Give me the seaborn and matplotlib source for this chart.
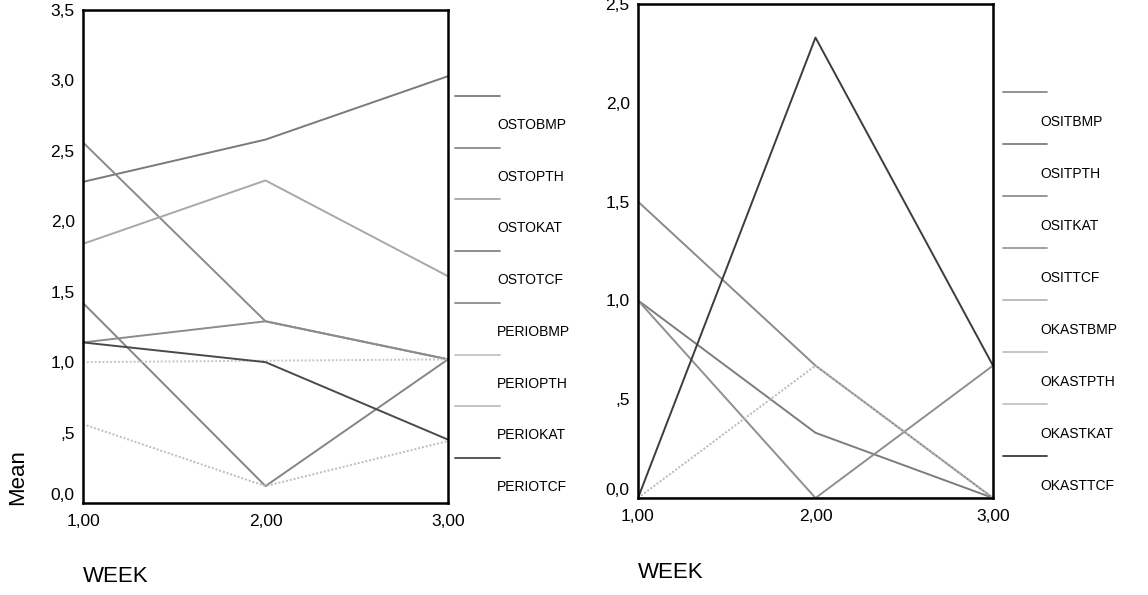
import matplotlib
matplotlib.use("Agg")
import matplotlib.pyplot as plt
from matplotlib.lines import Line2D
import seaborn as sns
import pandas as pd

# ---- data ----
weeks = [1.0, 2.0, 3.0]

left_labels = ["OSTOBMP", "OSTOPTH", "OSTOKAT", "OSTOTCF",
               "PERIOBMP", "PERIOPTH", "PERIOKAT", "PERIOTCF"]
OSTOBMP = [2.28, 2.58, 3.03]
OSTOPTH = [2.56, 1.29, 1.02]
OSTOKAT = [1.84, 2.29, 1.61]
OSTOTCF = [1.42, 0.12, 1.02]
PERIOBMP = [1.14, 1.29, 1.02]
PERIOPTH = [1.00, 1.01, 1.02]
PERIOKAT = [0.56, 0.12, 0.44]
PERIOTCF = [1.14, 1.00, 0.45]
left_values = [OSTOBMP, OSTOPTH, OSTOKAT, OSTOTCF,
               PERIOBMP, PERIOPTH, PERIOKAT, PERIOTCF]

right_labels = ["OSITBMP", "OSITPTH", "OSITKAT", "OSITTCF",
                "OKASTBMP", "OKASTPTH", "OKASTKAT", "OKASTTCF"]
OSITBMP = [1.50, 0.67, 0.00]
OSITPTH = [1.00, 0.33, 0.00]
OSITKAT = [1.00, 0.00, 0.67]
OSITTCF = [0.00, 0.00, 0.00]
OKASTBMP = [0.00, 0.67, 0.00]
OKASTPTH = [0.00, 0.00, 0.00]
OKASTKAT = [0.00, 0.00, 0.00]
OKASTTCF = [0.00, 2.33, 0.67]
right_values = [OSITBMP, OSITPTH, OSITKAT, OSITTCF,
                OKASTBMP, OKASTPTH, OKASTKAT, OKASTTCF]

left_yticks = [0.0, 0.5, 1.0, 1.5, 2.0, 2.5, 3.0, 3.5]
left_yticklabels = ["0,0", ",5", "1,0", "1,5", "2,0", "2,5", "3,0", "3,5"]
right_yticks = [0.0, 0.5, 1.0, 1.5, 2.0, 2.5]
right_yticklabels = ["0,0", ",5", "1,0", "1,5", "2,0", "2,5"]
xticks = [1.0, 2.0, 3.0]
xticklabels = ["1,00", "2,00", "3,00"]

# ---- styles ----
left_colors = ["#7a7a7a", "#8a8a8a", "#a8a8a8", "#858585",
               "#8c8c8c", "#c4c4c4", "#bdbdbd", "#4a4a4a"]
left_styles = ["-", "-", "-", "-", "-", (0, (1, 1)), (0, (1, 1)), "-"]
right_colors = ["#8a8a8a", "#7d7d7d", "#8f8f8f", "#9a9a9a",
                "#b8b8b8", "#c0c0c0", "#c4c4c4", "#3c3c3c"]
right_styles = ["-", "-", "-", "-", (0, (1, 1)), (0, (1, 1)), (0, (1, 1)), "-"]

sns.set_style("white")
plt.rcParams["font.family"] = ["Liberation Sans", "DejaVu Sans"]
plt.rcParams["text.color"] = "black"
plt.rcParams["xtick.color"] = "black"
plt.rcParams["ytick.color"] = "black"

W, H = 1148, 595
fig = plt.figure(figsize=(W / 100, H / 100), dpi=100)


def fx(px):
    return px / W


def fy(py):
    return 1 - py / H


def make_df(labels, values):
    rows = []
    for lab, vals in zip(labels, values):
        for w, v in zip(weeks, vals):
            rows.append({"WEEK": w, "Mean": v, "series": lab})
    return pd.DataFrame(rows)


def draw(ax, labels, values, colors, styles, ymax, yticks, yticklabels):
    df = make_df(labels, values)
    for lab, col, ls in zip(labels, colors, styles):
        sub = df[df["series"] == lab]
        sns.lineplot(data=sub, x="WEEK", y="Mean", ax=ax, color=col,
                     linestyle=ls, linewidth=1.4, legend=False)
    ax.set_xlim(1, 3)
    ax.set_ylim(0, ymax)
    ax.set_xticks(xticks)
    ax.set_xticklabels(xticklabels)
    ax.set_yticks(yticks)
    ax.set_yticklabels(yticklabels)
    ax.set_xlabel("")
    ax.set_ylabel("")
    for sp in ax.spines.values():
        sp.set_visible(True)
        sp.set_color("black")
        sp.set_linewidth(1.8)
    ax.tick_params(axis="y", direction="inout", length=4, width=3,
                   color="black", labelsize=12.5, pad=4, labelcolor="black")
    ax.tick_params(axis="x", direction="inout", length=4, width=3,
                   color="black", labelsize=12.5, pad=6, labelcolor="black")
    # the lowest y label sits slightly above its tick, as in SPSS output
    ax.get_yticklabels()[0].set_va("bottom")
    ax.set_facecolor("white")


ax1 = fig.add_axes([fx(83), fy(503), fx(448 - 83), (503 - 10) / H])
draw(ax1, left_labels, left_values, left_colors, left_styles, 3.5,
     left_yticks, left_yticklabels)
ax2 = fig.add_axes([fx(638), fy(498), fx(993 - 638), (498 - 4) / H])
draw(ax2, right_labels, right_values, right_colors, right_styles, 2.5,
     right_yticks, right_yticklabels)

# legends (handle above label, SPSS style)
for i, (lab, col) in enumerate(zip(left_labels, left_colors)):
    hy = 96 + 51.7 * i
    fig.add_artist(Line2D([fx(455), fx(500)], [fy(hy), fy(hy)],
                          transform=fig.transFigure, color=col, lw=1.3))
    fig.text(fx(497), fy(hy + 29), lab, fontsize=10, va="center", ha="left",
             color="black")

for i, (lab, col) in enumerate(zip(right_labels, right_colors)):
    hy = 92 + 52.0 * i
    fig.add_artist(Line2D([fx(1003), fx(1047)], [fy(hy), fy(hy)],
                          transform=fig.transFigure, color=col, lw=1.3))
    fig.text(fx(1040), fy(hy + 30), lab, fontsize=10, va="center", ha="left",
             color="black")

# axis titles
fig.text(fx(18), fy(477), "Mean", rotation=90, fontsize=16,
         va="center", ha="center", color="black")
fig.text(fx(83), fy(577), "WEEK", fontsize=16, va="center", ha="left",
         color="black")
fig.text(fx(638), fy(572), "WEEK", fontsize=16, va="center", ha="left",
         color="black")

fig.savefig("out.png", dpi=100, facecolor="white")
